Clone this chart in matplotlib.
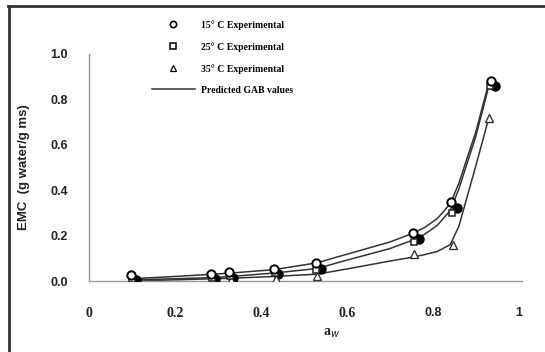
import matplotlib
matplotlib.use("Agg")
import matplotlib.pyplot as plt
from matplotlib.lines import Line2D

# Experimental data
aw_15 = [0.097, 0.284, 0.326, 0.431, 0.527, 0.754, 0.843, 0.934]
emc_15 = [0.027, 0.030, 0.040, 0.053, 0.080, 0.210, 0.350, 0.880]

aw_25 = [0.100, 0.286, 0.328, 0.432, 0.529, 0.755, 0.844, 0.932]
emc_25 = [0.010, 0.015, 0.020, 0.035, 0.050, 0.170, 0.300, 0.860]

aw_35 = [0.101, 0.288, 0.330, 0.434, 0.530, 0.756, 0.846, 0.930]
emc_35 = [0.000, 0.002, 0.005, 0.010, 0.020, 0.120, 0.160, 0.720]

aw_fill = [0.109, 0.293, 0.335, 0.440, 0.540, 0.768, 0.855, 0.944]
emc_fill = [0.005, 0.010, 0.015, 0.030, 0.055, 0.185, 0.320, 0.860]

# Predicted GAB curves
aw_gab = [0.10, 0.20, 0.29, 0.33, 0.43, 0.53, 0.60, 0.70, 0.75, 0.78, 0.81, 0.84, 0.86, 0.90, 0.93]
gab_15 = [0.010, 0.020, 0.030, 0.035, 0.050, 0.080, 0.118, 0.172, 0.208, 0.235, 0.275, 0.340, 0.430, 0.660, 0.875]
gab_25 = [0.005, 0.010, 0.015, 0.020, 0.035, 0.055, 0.092, 0.143, 0.178, 0.205, 0.245, 0.310, 0.405, 0.640, 0.860]
gab_35 = [0.000, 0.005, 0.010, 0.012, 0.020, 0.030, 0.053, 0.088, 0.104, 0.116, 0.130, 0.160, 0.240, 0.510, 0.720]

legend_labels = ["15° C Experimental", "25° C Experimental", "35° C Experimental", "Predicted GAB values"]
x_ticks = [0, 0.2, 0.4, 0.6, 0.8, 1.0]
x_tick_labels = ["0", "0.2", "0.4", "0.6", "0.8", "1"]
y_ticks = [0.0, 0.2, 0.4, 0.6, 0.8, 1.0]
y_tick_labels = ["0.0", "0.2", "0.4", "0.6", "0.8", "1.0"]

W, H = 545, 352
fig = plt.figure(figsize=(W / 100, H / 100), dpi=100)
ax = fig.add_axes([89 / W, 1 - 281 / H, 430 / W, 227 / H])

lc = "#333333"
ax.plot(aw_gab, gab_15, color=lc, lw=1.1, zorder=2)
ax.plot(aw_gab, gab_25, color=lc, lw=1.1, zorder=2)
ax.plot(aw_gab, gab_35, color=lc, lw=1.1, zorder=2)

ax.plot(aw_fill, emc_fill, ls="none", marker="o", ms=6.5, mfc="black", mec="black", zorder=3)
ax.plot(aw_35, emc_35, ls="none", marker="^", ms=6, mfc="white", mec="#333333", mew=1.0, zorder=4)
ax.plot(aw_25, emc_25, ls="none", marker="s", ms=5, mfc="white", mec="#222222", mew=1.1, zorder=4)
ax.plot(aw_15, emc_15, ls="none", marker="o", ms=6, mfc="white", mec="black", mew=1.4, zorder=5)

ax.set_xlim(0, 1)
ax.set_ylim(0, 1)
for s in ["top", "right"]:
    ax.spines[s].set_visible(False)
for s in ["left", "bottom"]:
    ax.spines[s].set_color("#9a9a9a")
    ax.spines[s].set_linewidth(1.0)
ax.spines["bottom"].set_bounds(0, 1.007)

ax.set_xticks(x_ticks)
ax.set_xticklabels(x_tick_labels)
ax.set_yticks(y_ticks)
ax.set_yticklabels(y_tick_labels)
ax.tick_params(axis="both", length=0)
ax.tick_params(axis="x", pad=19)
ax.tick_params(axis="y", pad=15)
for i, lab in enumerate(ax.get_xticklabels()):
    if i < 4:
        lab.set_fontfamily("Liberation Serif")
        lab.set_fontsize(10)
    else:
        lab.set_fontfamily("Liberation Sans")
        lab.set_fontsize(9)
    lab.set_fontweight("bold")
    lab.set_color("#222222")
for lab in ax.get_yticklabels():
    lab.set_fontfamily("Liberation Sans")
    lab.set_fontweight("bold")
    lab.set_fontsize(9)
    lab.set_color("#222222")

ax.set_ylabel("EMC  (g water/g ms)", fontfamily="Liberation Sans", fontweight="bold",
              fontsize=9.5, color="#222222")
ax.yaxis.set_label_coords(-0.138, 0.5)
ax.set_xlabel(r"a$_{w}$", fontfamily="Liberation Serif", fontweight="bold",
              fontsize=10, color="#222222")
ax.xaxis.set_label_coords(0.565, -0.2)

handles = [
    Line2D([], [], ls="none", marker="o", ms=4.5, mfc="white", mec="black", mew=1.2),
    Line2D([], [], ls="none", marker="s", ms=4, mfc="white", mec="black", mew=1.1),
    Line2D([], [], ls="none", marker="^", ms=4.5, mfc="white", mec="black", mew=0.9),
    Line2D([], [], color=lc, lw=1.1),
]
fig.legend(handles, legend_labels, loc="upper left", bbox_to_anchor=(152 / W, 1 - 20 / H),
           frameon=False, borderpad=0, borderaxespad=0, handlelength=4.4,
           handletextpad=0.65, labelspacing=1.25,
           prop={"family": "Liberation Serif", "weight": "bold", "size": 7})

# Figure border (top and left)
fig.add_artist(Line2D([8 / W, 1], [1 - 6 / H, 1 - 6 / H], color="#333333", lw=2.0,
                      transform=fig.transFigure))
fig.add_artist(Line2D([9 / W, 9 / W], [0, 1 - 6 / H], color="#333333", lw=2.0,
                      transform=fig.transFigure))

fig.savefig("out.png", dpi=100)
